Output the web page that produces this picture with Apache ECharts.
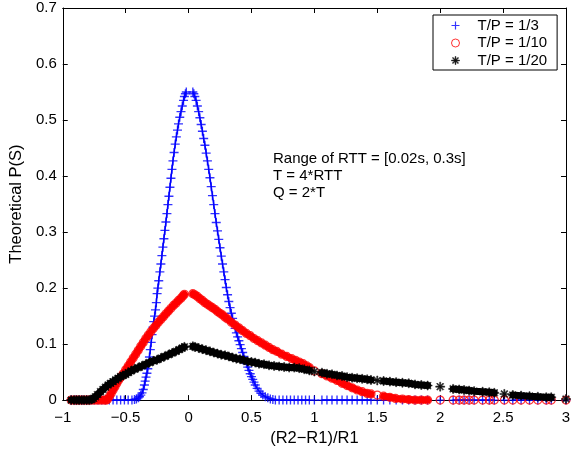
<!DOCTYPE html>
<html><head><meta charset="utf-8">
<script src="https://cdn.jsdelivr.net/npm/echarts@6.0.0/dist/echarts.min.js"></script>
<style>html,body{margin:0;padding:0;background:#fff}#c{width:579px;height:452px}</style>
</head><body><div id="c"></div>
<script>
const seriesNames = ['T/P = 1/3', 'T/P = 1/10', 'T/P = 1/20'];
const xTickLabels = ['\u22121', '\u22120.5', '0', '0.5', '1', '1.5', '2', '2.5', '3'];
const yTickLabels = ['0', '0.1', '0.2', '0.3', '0.4', '0.5', '0.6', '0.7'];
const xTitle = '(R2\u2212R1)/R1';
const yTitle = 'Theoretical P(S)';
const noteLines = ['Range of RTT = [0.02s, 0.3s]', 'T = 4*RTT', 'Q = 2*T'];

// T/P = 1/3 (blue +), null = gap
const blueCurve = [
  [-0.933,0],[-0.9,0],[-0.87,0],[-0.84,0],[-0.81,0],[-0.78,0],[-0.75,0],[-0.72,0],[-0.69,0],[-0.66,0],[-0.63,0],[-0.6,0],[-0.57,0],[-0.54,0],[-0.51,0],[-0.48,0],[-0.45,0],
  [-0.43,0.001],[-0.415,0.002],[-0.4,0.004],[-0.39,0.006],[-0.38,0.009],[-0.37,0.013],[-0.36,0.019],[-0.351,0.027],[-0.345,0.034],[-0.338,0.041],[-0.331,0.048],[-0.324,0.056],
  [-0.318,0.066],[-0.311,0.077],[-0.304,0.09],[-0.297,0.103],[-0.29,0.117],[-0.283,0.13],[-0.277,0.14],[-0.27,0.15],[-0.263,0.161],[-0.256,0.174],[-0.25,0.19],[-0.244,0.2],
  [-0.237,0.213],[-0.228,0.229],[-0.22,0.243],[-0.212,0.258],[-0.204,0.273],[-0.196,0.288],[-0.188,0.303],[-0.18,0.318],[-0.172,0.333],[-0.164,0.349],[-0.156,0.364],
  [-0.148,0.38],[-0.14,0.396],[-0.132,0.412],[-0.124,0.427],[-0.115,0.442],[-0.106,0.457],[-0.097,0.47],[-0.088,0.482],[-0.08,0.493],[-0.07,0.505],[-0.06,0.515],
  [-0.05,0.525],[-0.04,0.535],[-0.033,0.542],[-0.025,0.547],[-0.018,0.55],
  null,
  [0.034,0.55],[0.042,0.547],[0.05,0.542],[0.06,0.535],[0.07,0.525],[0.08,0.515],[0.09,0.504],[0.1,0.492],[0.11,0.48],[0.12,0.467],[0.13,0.455],[0.14,0.441],
  [0.15,0.427],[0.16,0.412],[0.17,0.397],[0.18,0.381],[0.19,0.365],[0.2,0.349],[0.21,0.333],[0.22,0.317],[0.23,0.302],[0.24,0.287],[0.25,0.272],[0.26,0.257],
  [0.27,0.243],[0.28,0.229],[0.29,0.215],[0.3,0.201],[0.31,0.188],[0.32,0.176],[0.33,0.165],[0.34,0.155],[0.35,0.146],[0.36,0.137],[0.37,0.128],[0.38,0.12],
  [0.39,0.113],[0.4,0.106],[0.41,0.099],[0.42,0.092],[0.43,0.085],[0.44,0.078],[0.45,0.071],[0.46,0.065],[0.47,0.059],[0.48,0.053],[0.49,0.047],[0.5,0.042],
  [0.51,0.037],[0.52,0.032],[0.53,0.027],[0.545,0.021],[0.56,0.016],[0.575,0.012],[0.59,0.009],[0.61,0.006],[0.63,0.004],[0.65,0.002],[0.67,0.001],[0.69,0],
  [0.72,0],[0.75,0],[0.78,0],[0.81,0],[0.84,0],[0.87,0],[0.9,0],[0.93,0],[0.96,0],
  null,
  [1.06,0],[1.1,0],[1.14,0],[1.18,0],[1.22,0],[1.26,0],[1.3,0],[1.34,0],[1.38,0],[1.42,0],[1.45,0],
  null,
  [1.55,0],[1.6,0],[1.65,0],[1.7,0],[1.75,0],[1.8,0],[1.85,0],[1.9,0],
  null,
  [2.103,0],[2.151,0],[2.19,0],[2.23,0],[2.27,0],[2.337,0],[2.39,0],[2.43,0],
  null,
  [2.577,0],[2.643,0],[2.71,0],[2.776,0],[2.843,0],[2.883,0]
];
const blueDots = [[1.0,0],[1.5,0],[2.0,0],[2.51,0],[3.0,0]];

// T/P = 1/10 (red o)
const redCurve = [
  [-0.933,0],[-0.91,0],[-0.89,0],[-0.87,0],[-0.85,0],[-0.83,0],[-0.81,0],[-0.79,0],[-0.77,0],[-0.75,0],[-0.73,0],[-0.71,0],[-0.69,0],[-0.67,0],[-0.655,0],
  [-0.645,0.001],[-0.63,0.006],[-0.615,0.012],[-0.6,0.018],[-0.585,0.024],[-0.57,0.03],[-0.555,0.036],[-0.54,0.041],[-0.52,0.047],[-0.5,0.054],[-0.48,0.061],
  [-0.46,0.068],[-0.44,0.075],[-0.42,0.082],[-0.4,0.089],[-0.38,0.096],[-0.36,0.103],[-0.34,0.11],[-0.32,0.116],[-0.3,0.122],[-0.28,0.128],[-0.26,0.133],
  [-0.24,0.139],[-0.22,0.144],[-0.2,0.149],[-0.18,0.154],[-0.16,0.159],[-0.14,0.164],[-0.12,0.169],[-0.1,0.173],[-0.08,0.178],[-0.06,0.182],[-0.045,0.186],[-0.033,0.189],
  null,
  [0.034,0.19],[0.05,0.188],[0.07,0.185],[0.09,0.181],[0.11,0.178],[0.13,0.174],[0.15,0.171],[0.17,0.168],[0.19,0.165],[0.21,0.162],[0.23,0.158],[0.25,0.155],
  [0.27,0.152],[0.29,0.148],[0.31,0.145],[0.34,0.139],[0.37,0.134],[0.4,0.129],[0.43,0.124],[0.46,0.119],[0.49,0.115],[0.52,0.11],[0.55,0.106],[0.58,0.102],
  [0.61,0.098],[0.64,0.094],[0.67,0.09],[0.7,0.087],[0.74,0.082],[0.78,0.078],[0.82,0.074],[0.85,0.071],[0.88,0.068],[0.91,0.065],[0.94,0.061],[0.96,0.058],
  null,
  [1.06,0.047],[1.1,0.043],[1.14,0.039],[1.18,0.035],[1.22,0.03],[1.26,0.026],[1.3,0.022],[1.34,0.018],[1.38,0.015],[1.42,0.012],[1.45,0.011],
  null,
  [1.55,0.007],[1.6,0.005],[1.645,0.003],[1.7,0.002],[1.75,0.001],[1.8,0],[1.85,0],[1.9,0]
];
const redDots = [[1.0,0.052],[1.5,0.009],[2.0,0],[2.103,0],[2.151,0],[2.19,0],[2.23,0],[2.27,0],[2.337,0],[2.39,0],[2.43,0],[2.51,0],
  [2.577,0],[2.643,0],[2.71,0],[2.776,0],[2.843,0],[2.883,0],[3.0,0]];

// T/P = 1/20 (black *)
const blackCurve = [
  [-0.933,0],[-0.91,0],[-0.89,0],[-0.87,0],[-0.85,0],[-0.83,0],[-0.81,0],[-0.79,0],[-0.77,0.001],
  [-0.755,0.003],[-0.74,0.006],[-0.723,0.01],[-0.7,0.015],[-0.68,0.019],[-0.66,0.023],[-0.64,0.027],[-0.62,0.03],[-0.6,0.033],[-0.58,0.036],[-0.56,0.039],
  [-0.54,0.042],[-0.52,0.044],[-0.5,0.046],[-0.48,0.049],[-0.457,0.052],[-0.43,0.055],[-0.4,0.058],[-0.37,0.061],[-0.34,0.064],[-0.31,0.067],[-0.28,0.07],
  [-0.25,0.072],[-0.22,0.075],[-0.19,0.078],[-0.16,0.081],[-0.13,0.084],[-0.1,0.087],[-0.075,0.09],[-0.05,0.093],[-0.033,0.095],
  null,
  [0.034,0.096],[0.05,0.095],[0.08,0.093],[0.11,0.091],[0.14,0.089],[0.17,0.087],[0.2,0.085],[0.23,0.083],[0.26,0.081],[0.29,0.08],[0.32,0.078],[0.35,0.076],
  [0.38,0.074],[0.41,0.073],[0.44,0.071],[0.47,0.069],[0.5,0.068],[0.53,0.067],[0.56,0.065],[0.6,0.064],[0.64,0.062],[0.68,0.061],[0.72,0.06],[0.76,0.059],
  [0.8,0.058],[0.84,0.058],[0.88,0.057],[0.92,0.055],[0.96,0.053],
  null,
  [1.06,0.049],[1.1,0.047],[1.14,0.046],[1.18,0.044],[1.22,0.043],[1.26,0.041],[1.3,0.04],[1.34,0.039],[1.38,0.038],[1.42,0.037],[1.45,0.036],
  null,
  [1.55,0.034],[1.6,0.033],[1.65,0.032],[1.7,0.031],[1.75,0.03],[1.8,0.028],[1.85,0.027],[1.9,0.026],
  null,
  [2.103,0.02],[2.151,0.019],[2.19,0.018],[2.23,0.017],[2.27,0.016],[2.337,0.015],[2.39,0.014],[2.43,0.013],
  null,
  [2.577,0.009],[2.643,0.008],[2.71,0.007],[2.776,0.006],[2.843,0.005],[2.883,0.005]
];
const blackDots = [[1.0,0.051],[1.5,0.035],[2.0,0.024],[2.51,0.011],[3.0,0.002]];

const FONT = '"Liberation Sans", Arial, Helvetica, sans-serif';
const PLUS = 'path://M6.8,0L9.2,0L9.2,6.8L16,6.8L16,9.2L9.2,9.2L9.2,16L6.8,16L6.8,9.2L0,9.2L0,6.8L6.8,6.8Z';
const STAR = 'path://M7,0L9,0L9,16L7,16Z M0,7L16,7L16,9L0,9Z M14.4,13L13,14.4L1.6,3L3,1.6Z M14.4,3L13,1.6L1.6,13L3,14.4Z';

function segments(arr) {
  const out = []; let cur = [];
  arr.forEach(p => { if (p === null) { if (cur.length) out.push(cur); cur = []; } else cur.push(p); });
  if (cur.length) out.push(cur);
  return out;
}

const defs = [
  { name: seriesNames[0], curve: blueCurve, dots: blueDots, color: '#0000ff', symbol: PLUS, size: 9,
    itemStyle: { color: '#0000ff' }, band: 1.5, z: 2 },
  { name: seriesNames[1], curve: redCurve, dots: redDots, color: '#ff0000', symbol: 'circle', size: 8,
    itemStyle: { color: 'rgba(255,255,255,0)', borderColor: '#ff0000', borderWidth: 1.2 }, band: 7, z: 4 },
  { name: seriesNames[2], curve: blackCurve, dots: blackDots, color: '#000000', symbol: STAR, size: 9,
    itemStyle: { color: '#000000', borderColor: '#000000', borderWidth: 0.6 }, band: 7, z: 6 }
];

const series = [];
defs.forEach(d => {
  series.push({
    name: d.name, type: 'scatter', data: d.curve.filter(p => p !== null).concat(d.dots),
    symbol: d.symbol, symbolSize: d.size, itemStyle: d.itemStyle, z: d.z + 1,
    clip: false, silent: true, animation: false
  });
});
defs.forEach(d => {
  segments(d.curve).forEach(seg => {
    if (seg.length < 2) return;
    series.push({
      name: d.name, type: 'line', data: seg, showSymbol: false, symbol: 'none', z: d.z,
      lineStyle: { color: d.color, width: d.band, cap: 'round', join: 'round' },
      itemStyle: { color: d.color }, clip: false, silent: true, animation: false
    });
  });
});

const axisCommon = {
  axisLine: { show: true, onZero: false, lineStyle: { color: '#000', width: 1 } },
  axisTick: { show: true, inside: true, length: 5, lineStyle: { color: '#000', width: 1 } },
  splitLine: { show: false }
};

const chart = echarts.init(document.getElementById('c'), null, { renderer: 'canvas' });
chart.setOption({
  animation: false,
  backgroundColor: '#fff',
  grid: { left: 62, right: 13, top: 8, bottom: 46, containLabel: false },
  xAxis: [
    Object.assign({
      type: 'value', min: -1, max: 3, interval: 0.5, position: 'bottom',
      axisLabel: { color: '#000', fontSize: 15, fontFamily: FONT, margin: 10,
        formatter: v => xTickLabels[Math.round((v + 1) / 0.5)] },
      name: xTitle, nameLocation: 'middle', nameGap: 25,
      nameTextStyle: { color: '#000', fontSize: 16.5, fontFamily: FONT }
    }, axisCommon),
    Object.assign({
      type: 'value', min: -1, max: 3, interval: 0.5, position: 'top', axisLabel: { show: false }
    }, axisCommon)
  ],
  yAxis: [
    Object.assign({
      type: 'value', min: 0, max: 0.7, interval: 0.1, position: 'left',
      axisLabel: { color: '#000', fontSize: 15, fontFamily: FONT, margin: 6,
        formatter: v => yTickLabels[Math.round(v / 0.1)] },
      name: yTitle, nameLocation: 'middle', nameGap: 26, nameRotate: 90,
      nameTextStyle: { color: '#000', fontSize: 16.5, fontFamily: FONT }
    }, axisCommon),
    Object.assign({
      type: 'value', min: 0, max: 0.7, interval: 0.1, position: 'right', axisLabel: { show: false }
    }, axisCommon)
  ],
  legend: {
    orient: 'vertical', left: 433, top: 15,
    padding: [3, 10, 2, 18], itemGap: 2.5, itemWidth: 34, itemHeight: 8,
    backgroundColor: '#fff', borderColor: '#000', borderWidth: 1, borderRadius: 0,
    selectedMode: false,
    textStyle: { color: '#000', fontSize: 15, fontFamily: FONT },
    data: [
      { name: seriesNames[0], icon: PLUS, itemStyle: { color: '#0000ff', borderWidth: 0 } },
      { name: seriesNames[1], icon: 'circle', itemStyle: { color: 'rgba(255,255,255,0)', borderColor: '#ff0000', borderWidth: 1 } },
      { name: seriesNames[2], icon: STAR, itemStyle: { color: '#000000', borderColor: '#000', borderWidth: 0.5 } }
    ]
  },
  graphic: [{
    type: 'text', left: 273, top: 150, silent: true,
    style: { text: noteLines.join('\n'), font: '15px ' + FONT, lineHeight: 17, fill: '#000' }
  }],
  series: series
});
</script>
</body></html>
